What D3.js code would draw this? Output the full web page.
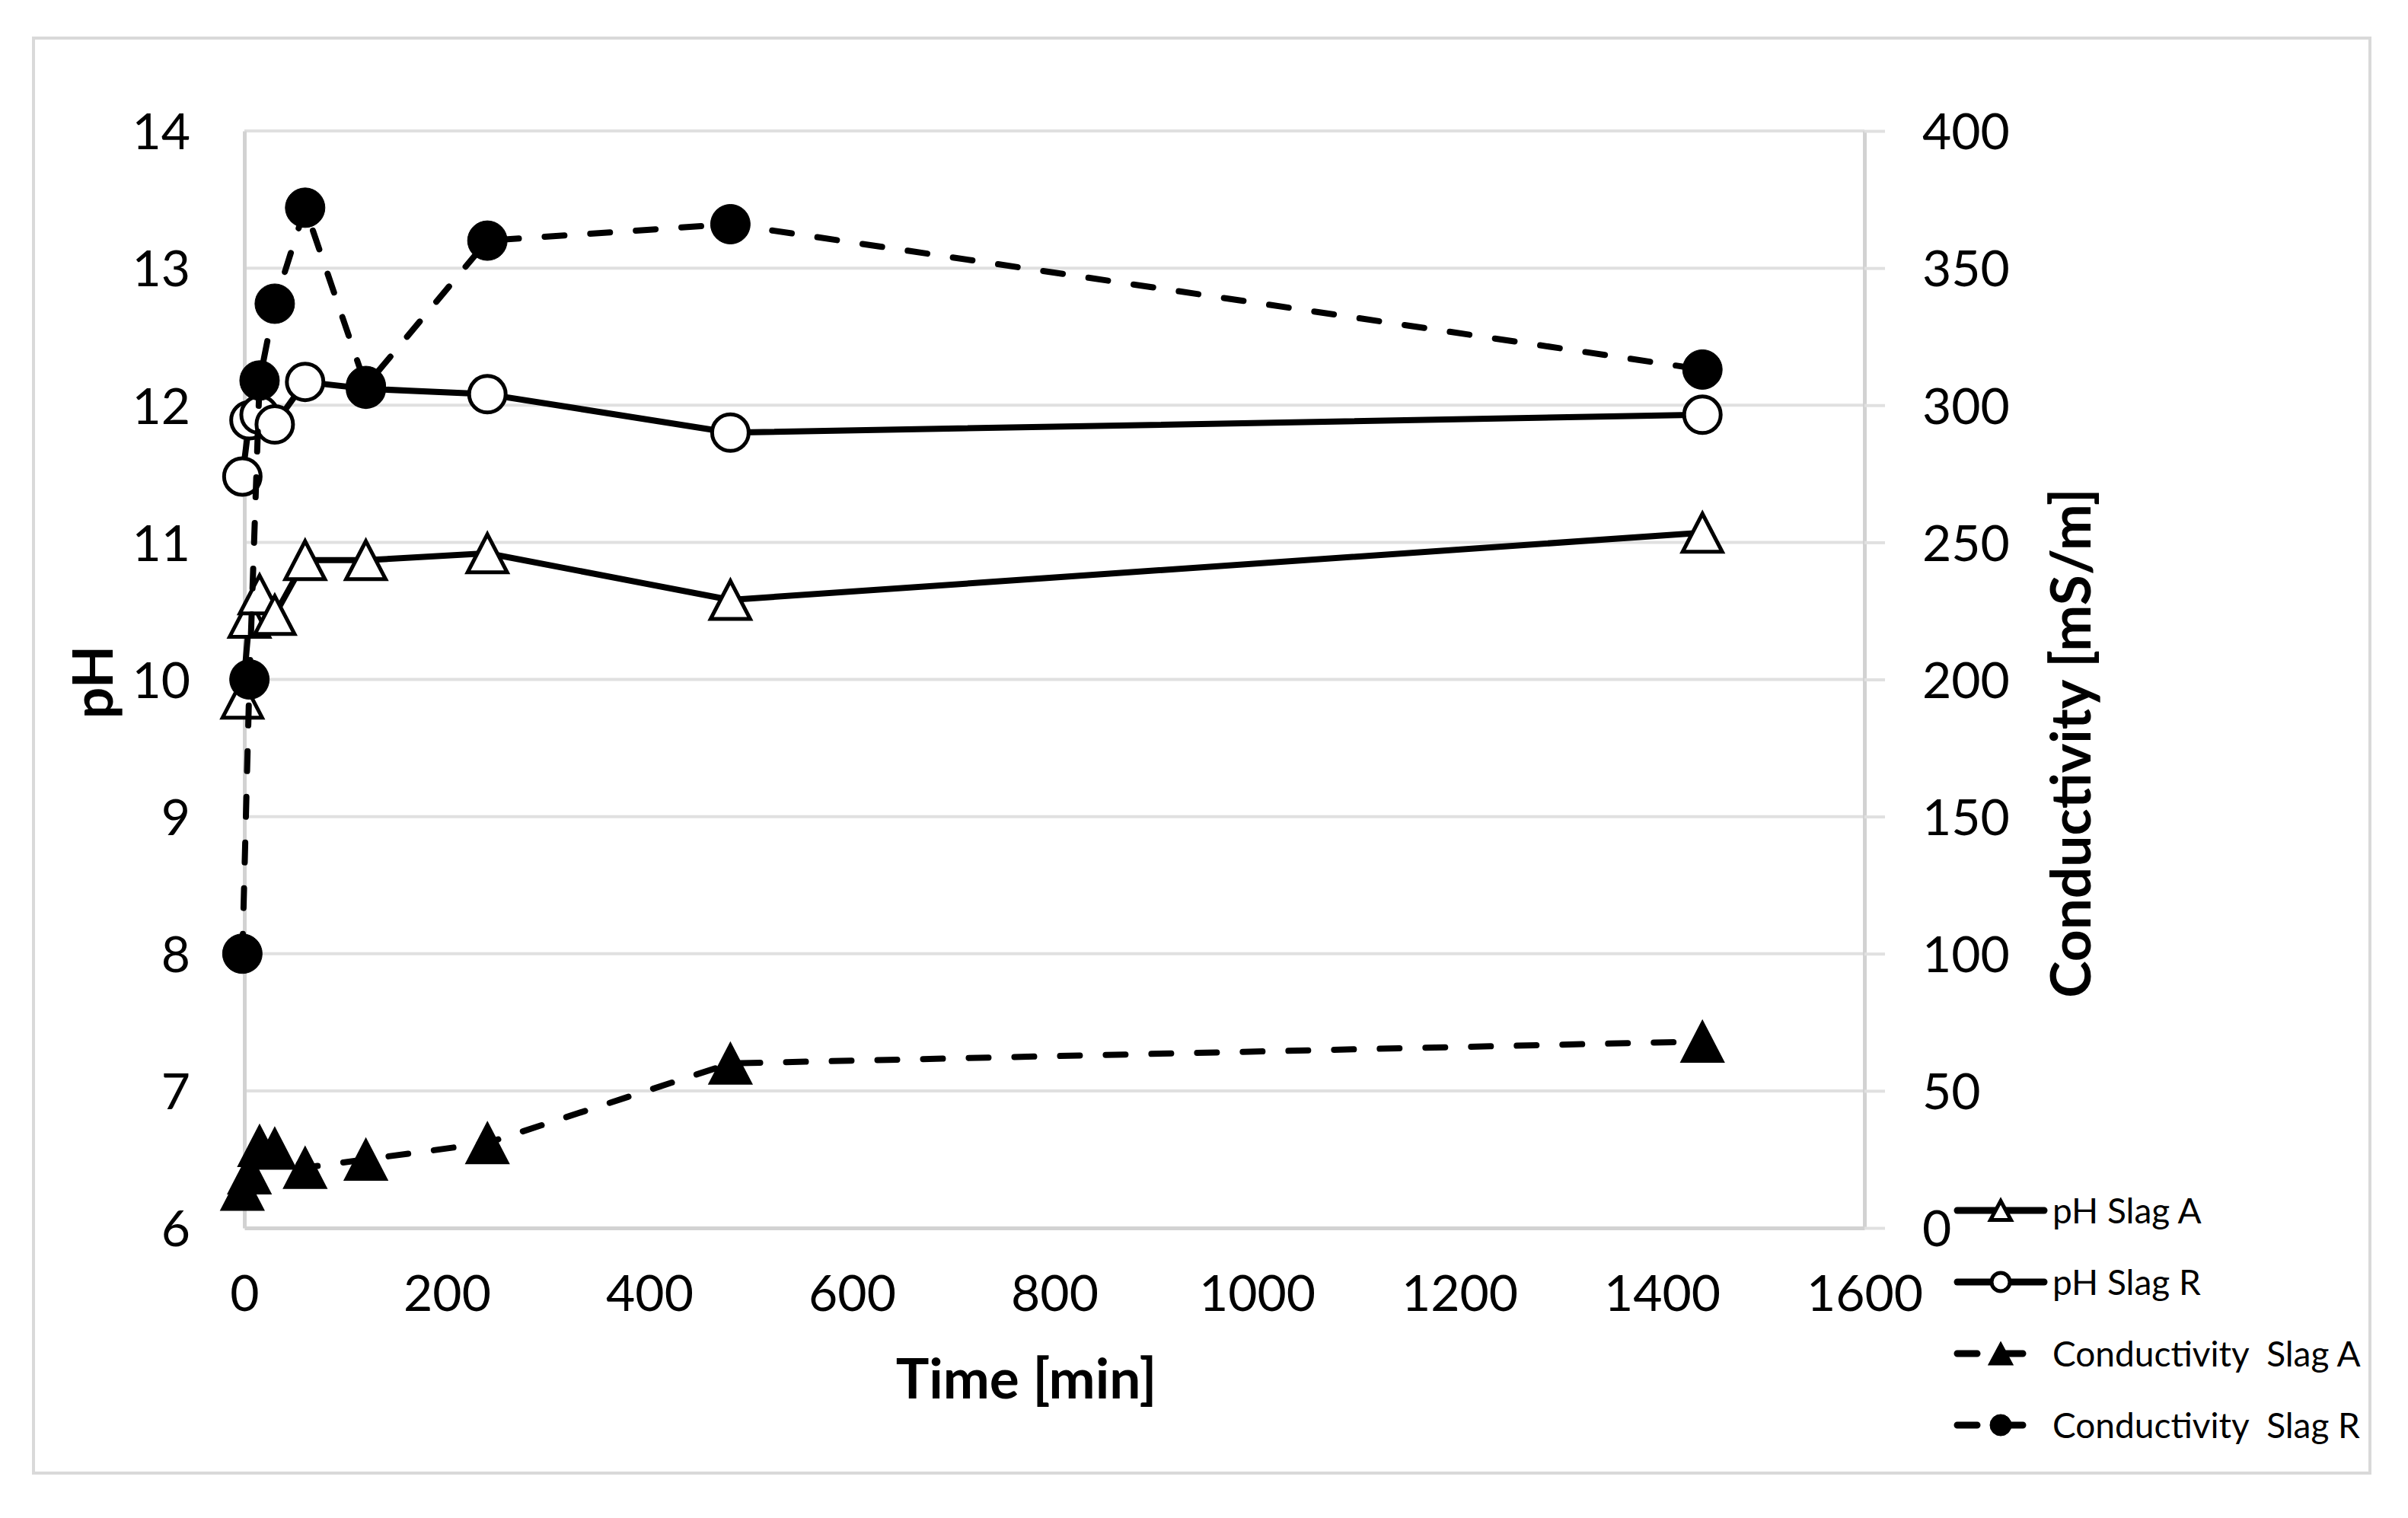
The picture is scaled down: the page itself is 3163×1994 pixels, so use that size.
<!DOCTYPE html>
<html>
<head>
<meta charset="utf-8">
<script src="https://cdn.jsdelivr.net/npm/d3@7"></script>
<style>
  body { margin: 0; background: #fff; }
  text { font-family: Lato, "Liberation Sans", sans-serif; fill: #000; }
</style>
</head>
<body>
<div class="chart"></div>
<script>
var svgWidth = 3163;
var svgHeight = 1994;

var margin = {
  top: 172,
  right: 714,
  bottom: 381,
  left: 321
};

var width = svgWidth - margin.left - margin.right;
var height = svgHeight - margin.top - margin.bottom;

// data
var timeMin = [-2, 5, 15, 30, 60, 120, 240, 480, 1440];
var phSlagA = [9.86, 10.45, 10.62, 10.47, 10.87, 10.87, 10.92, 10.58, 11.07];
var phSlagR = [11.48, 11.89, 11.93, 11.86, 12.17, 12.12, 12.08, 11.80, 11.93];
var condSlagA = [14, 20, 30, 29, 22, 25, 31, 60, 68];
var condSlagR = [100, 200, 309, 337, 372, 307, 360, 366, 313];

var xTicks = [0, 200, 400, 600, 800, 1000, 1200, 1400, 1600];
var phTicks = [6, 7, 8, 9, 10, 11, 12, 13, 14];
var condTicks = [0, 50, 100, 150, 200, 250, 300, 350, 400];

var seriesNames = ["pH Slag A", "pH Slag R", "Conductivity  Slag A", "Conductivity  Slag R"];

var gridColor = "#e0e0e0";
var axisColor = "#d2d2d2";

var svg = d3.select(".chart")
  .append("svg")
  .attr("width", svgWidth)
  .attr("height", svgHeight);

svg.append("rect")
  .attr("x", 44)
  .attr("y", 50)
  .attr("width", 3069)
  .attr("height", 1885)
  .attr("fill", "#fff")
  .attr("stroke", "#d9d9d9")
  .attr("stroke-width", 4);

var chartGroup = svg.append("g")
  .attr("transform", `translate(${margin.left}, ${margin.top})`);

var xScale = d3.scaleLinear().domain([0, 1600]).range([0, width]);
var yPh = d3.scaleLinear().domain([6, 14]).range([height, 0]);
var yCond = d3.scaleLinear().domain([0, 400]).range([height, 0]);

// gridlines
chartGroup.append("g")
  .selectAll("line")
  .data(phTicks.filter(d => d > 6))
  .enter()
  .append("line")
  .attr("x1", 0)
  .attr("x2", width)
  .attr("y1", d => yPh(d))
  .attr("y2", d => yPh(d))
  .attr("stroke", gridColor)
  .attr("stroke-width", 4);

var leftAxis = chartGroup.append("g")
  .call(d3.axisLeft(yPh).tickValues(phTicks).tickSize(0).tickPadding(71));

var bottomAxis = chartGroup.append("g")
  .attr("transform", `translate(0, ${height})`)
  .call(d3.axisBottom(xScale).tickValues(xTicks).tickFormat(d3.format("d")).tickSize(0).tickPadding(85));

var rightAxis = chartGroup.append("g")
  .attr("transform", `translate(${width}, 0)`)
  .call(d3.axisRight(yCond).tickValues(condTicks).tickSizeInner(27).tickSizeOuter(0).tickPadding(49));

[leftAxis, bottomAxis, rightAxis].forEach(function(ax) {
  ax.attr("font-family", null).attr("font-size", null);
  ax.select(".domain").attr("stroke", axisColor).attr("stroke-width", 5);
  ax.selectAll(".tick line").attr("stroke", gridColor).attr("stroke-width", 4);
  ax.selectAll(".tick text")
    .attr("fill", "#000")
    .style("font-size", "66px")
    .attr("dy", "0.36em");
});
bottomAxis.selectAll(".tick text").attr("y", 85);

// axis titles
chartGroup.append("text")
  .attr("x", 1348 - margin.left)
  .attr("y", 1837 - margin.top)
  .attr("text-anchor", "middle")
  .style("font-size", "73px")
  .style("font-weight", "bold")
  .text("Time [min]");

svg.append("text")
  .attr("transform", "translate(122, 896) rotate(-90)")
  .attr("text-anchor", "middle")
  .attr("dy", "0.36em")
  .style("font-size", "73px")
  .style("font-weight", "bold")
  .text("pH");

svg.append("text")
  .attr("transform", "translate(2720, 976) rotate(-90)")
  .attr("text-anchor", "middle")
  .attr("dy", "0.36em")
  .style("font-size", "73px")
  .style("font-weight", "bold")
  .text("Conductivity [mS/m]");

function triPath(w, h) {
  return `M0,${-h / 2}L${w / 2},${h / 2}L${-w / 2},${h / 2}Z`;
}

var series = [
  { name: seriesNames[0], values: phSlagA, y: yPh, dashed: false, marker: "tri", filled: false },
  { name: seriesNames[1], values: phSlagR, y: yPh, dashed: false, marker: "circle", filled: false },
  { name: seriesNames[2], values: condSlagA, y: yCond, dashed: true, marker: "tri", filled: true },
  { name: seriesNames[3], values: condSlagR, y: yCond, dashed: true, marker: "circle", filled: true }
];

function drawMarker(sel, s, big) {
  if (s.marker == "tri") {
    sel.append("path")
      .attr("d", s.filled ? triPath(big ? 56 : 31, big ? 54 : 29) : triPath(big ? 52 : 27, big ? 50 : 25))
      .attr("fill", s.filled ? "#000" : "#fff")
      .attr("stroke", "#000")
      .attr("stroke-width", s.filled ? 2 : 5)
      .attr("stroke-linejoin", "miter");
  } else {
    sel.append("circle")
      .attr("r", s.filled ? (big ? 26 : 14) : (big ? 24 : 12))
      .attr("fill", s.filled ? "#000" : "#fff")
      .attr("stroke", "#000")
      .attr("stroke-width", s.filled ? 1 : 5);
  }
}

series.forEach(function(s) {
  var pts = timeMin.map((t, i) => ({ t: t, v: s.values[i] }));
  var line = d3.line()
    .x(d => xScale(d.t))
    .y(d => s.y(d.v));

  chartGroup.append("path")
    .datum(pts)
    .attr("d", line)
    .attr("fill", "none")
    .attr("stroke", "#000")
    .attr("stroke-width", 8)
    .attr("stroke-linejoin", "round")
    .attr("stroke-linecap", "round")
    .attr("stroke-dasharray", s.dashed ? "26,34" : null);

  chartGroup.append("g")
    .selectAll("g")
    .data(pts)
    .enter()
    .append("g")
    .attr("transform", d => `translate(${xScale(d.t)}, ${s.y(d.v)})`)
    .each(function() { drawMarker(d3.select(this), s, true); });
});

// legend
var legend = svg.append("g")
  .selectAll("g")
  .data(series)
  .enter()
  .append("g")
  .attr("transform", (d, i) => `translate(2571, ${1590 + i * 94})`);

legend.append("line")
  .attr("x1", 0)
  .attr("x2", 114)
  .attr("stroke", "#000")
  .attr("stroke-width", 9)
  .attr("stroke-linecap", "round")
  .attr("stroke-dasharray", d => d.dashed ? "26,34" : null);

legend.append("g")
  .attr("transform", "translate(57, 0)")
  .each(function(d) { drawMarker(d3.select(this), d, false); });

legend.append("text")
  .attr("x", 125)
  .attr("dy", "0.36em")
  .style("font-size", "46px")
  .style("white-space", "pre")
  .text(d => d.name);
</script>
</body>
</html>
